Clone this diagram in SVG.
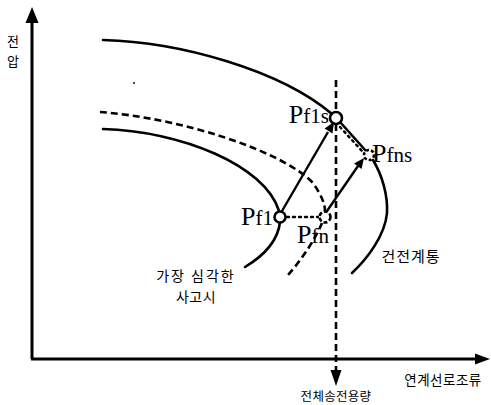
<svg xmlns="http://www.w3.org/2000/svg" width="491" height="405" viewBox="0 0 491 405">
<style>
.ax{stroke:#000;stroke-width:3;fill:none}
.cv{stroke:#000;stroke-width:2.6;fill:none;stroke-linecap:round}
.dc{stroke:#000;stroke-width:2.6;fill:none;stroke-dasharray:7 4}
.dot{stroke:#000;stroke-width:2.4;fill:none;stroke-dasharray:2 4;stroke-linecap:round}
.ar{stroke:#000;stroke-width:2.4;fill:none}
.hd{fill:#000;stroke:none}
.pt{fill:#fff;stroke:#000;stroke-width:2.6}
.ko{font-family:"Noto Sans CJK KR","Noto Sans",sans-serif;fill:#000}
.lb{font-family:"Liberation Serif","Times New Roman",serif;fill:#000}
</style>
<rect width="491" height="405" fill="#fff"/>
<g id="axes">
<line class="ax" x1="32" y1="20" x2="32" y2="359"/>
<polygon class="hd" points="32,7 25.5,23 38.5,23"/>
<line class="ax" x1="31" y1="359" x2="477" y2="359"/>
<polygon class="hd" points="490,359 475,353.5 475,364.5"/>
<text class="ko" x="13" y="46" font-size="13" text-anchor="middle">전</text>
<text class="ko" x="13" y="66" font-size="13" text-anchor="middle">압</text>
<text class="ko" x="443" y="385" font-size="13.5" text-anchor="middle" letter-spacing="0.5">연계선로조류</text>
</g>
<g id="connectors">
<line class="dc" x1="336" y1="80" x2="336" y2="372"/>
<polygon class="hd" points="336,386 330.5,370 341.5,370"/>
<path class="cv" d="M103,40 C180,42 280,70 332,114"/>
<path class="cv" d="M340,122 L366,151"/>
<path class="cv" d="M373,160 C382,175 388,195 387,213 C385,235 368,258 352,273"/>
<path class="cv" d="M103,129 C180,131 265,165 279,211"/>
<path class="cv" d="M280,222 C278,240 265,255 245,267"/>
<path class="dc" d="M100,112 C180,118 280,150 312,182 C322,195 325,205 325,211"/>
<path class="dc" d="M322,223 C315,240 300,262 287,276"/>
<line class="dot" x1="287" y1="217" x2="318" y2="217"/>
<line class="dot" x1="340" y1="127" x2="362" y2="151"/>
<line class="ar" x1="282" y1="211" x2="328" y2="132"/>
<polygon class="hd" points="334,122 324.5,128.5 332.5,133.5"/>
<line class="ar" x1="327" y1="211" x2="358" y2="166"/>
<polygon class="hd" points="364,158 354,163.5 361.5,169"/>
<circle cx="134" cy="83" r="0.9" fill="#000"/>
</g>
<g id="Pf1s">
<circle class="pt" cx="336" cy="118" r="6"/>
<text class="lb" x="329" y="123" text-anchor="end"><tspan font-size="26">P</tspan><tspan font-size="21">f1s</tspan></text>
</g>
<g id="Pfns">
<circle class="pt" cx="369" cy="155" r="5" stroke-dasharray="3 2"/>
<text class="lb" x="372" y="162"><tspan font-size="26">P</tspan><tspan font-size="21">fns</tspan></text>
</g>
<g id="Pf1">
<circle class="pt" cx="280" cy="217" r="5.5"/>
<text class="lb" x="273" y="225" text-anchor="end"><tspan font-size="26">P</tspan><tspan font-size="21">f1</tspan></text>
</g>
<g id="Pfn">
<circle class="pt" cx="325" cy="217" r="5.5" stroke-dasharray="4 2"/>
<text class="lb" x="297" y="243"><tspan font-size="26">P</tspan><tspan font-size="21">fn</tspan></text>
</g>
<g id="labels">
<text class="ko" x="196" y="281" font-size="14" text-anchor="middle" letter-spacing="2">가장 심각한</text>
<text class="ko" x="196" y="302" font-size="14" text-anchor="middle" letter-spacing="0.5">사고시</text>
<text class="ko" x="411" y="262" font-size="15" text-anchor="middle" letter-spacing="1">건전계통</text>
<text class="ko" x="336" y="401" font-size="12.5" text-anchor="middle" letter-spacing="0.3">전체송전용량</text>
</g>
</svg>
